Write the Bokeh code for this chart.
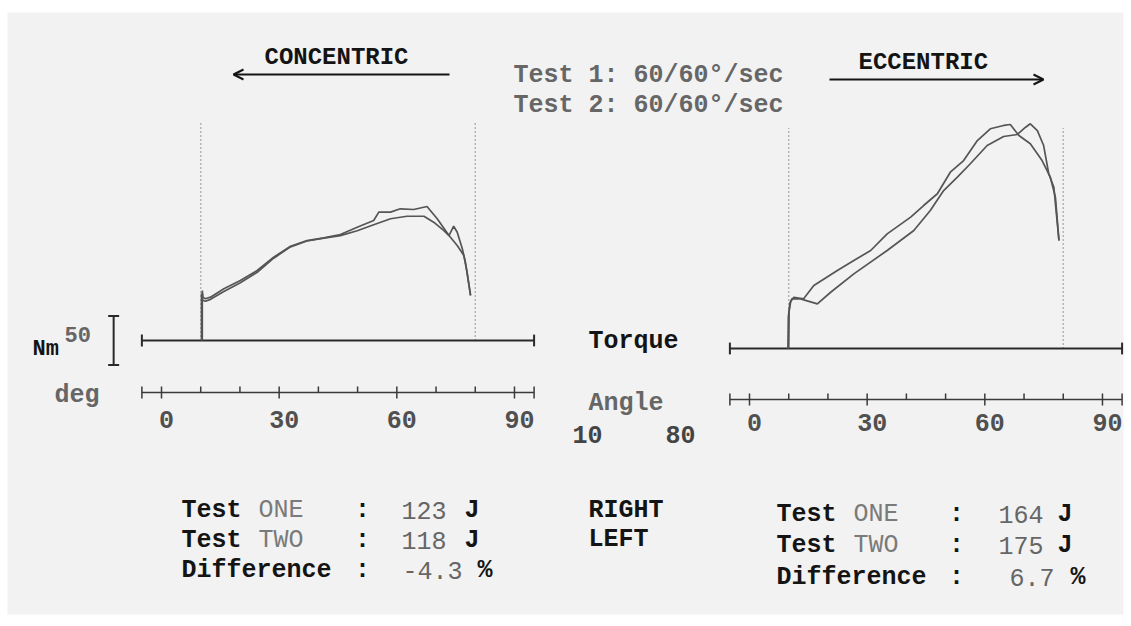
from bokeh.plotting import figure
from bokeh.models import Range1d, Arrow, OpenHead
from bokeh.core.properties import value
from bokeh.embed import file_html
from bokeh.resources import INLINE

# ---------------- data ----------------
# Concentric (left panel): angle (deg) vs torque (Nm)
conc_one_angle = [10.4, 10.4, 10.6, 11.2, 12.5, 15.9, 20.1, 24.4, 28.6, 32.9, 37.1, 41.4, 45.6,
                  49.9, 54.1, 55.4, 58.4, 60.9, 64.3, 67.7, 70.3, 73.3, 75.4, 77.1, 77.9, 78.8]
conc_one_torque = [0, 51, 44, 42.6, 44.2, 52.8, 61.2, 71.4, 85, 96.2, 102, 104.8, 108.2,
                   115.6, 122.4, 131, 131, 134.4, 133.7, 136.7, 124.2, 107.1, 97, 86.7, 69.7, 46]
conc_two_angle = [10.2, 10.2, 10.5, 11.2, 12.5, 15.9, 20.1, 24.4, 28.6, 32.9, 37.1, 41.4, 45.6,
                  49.9, 54.1, 58.4, 62.6, 66.9, 69.4, 72.0, 73.3, 74.5, 75.4, 76.7, 77.5, 78.8]
conc_two_torque = [0, 48, 41, 40, 42, 50, 59, 69.5, 84, 95.5, 101.5, 104.5, 107,
                   112, 118.1, 124.2, 126.8, 126.8, 120.7, 112.2, 107.1, 116.6, 110.5, 93.6, 79.6, 46]

# Eccentric (right panel)
ecc_one_angle = [9.8, 9.9, 10.3, 10.8, 13.0, 17.3, 20.7, 26.6, 35.1, 41.9, 46.1, 49.5, 53.0, 56.3,
                 60.6, 64.8, 68.3, 70.4, 71.6, 73.4, 75.0, 76.3, 77.6, 78.5, 78.9]
ecc_one_torque = [0, 32, 46, 50.7, 50.7, 45.6, 57.4, 76.2, 100, 120.4, 140.8, 161.2, 174.8, 188.5,
                  207.1, 216.3, 218.4, 225.8, 229.3, 222.4, 207.1, 178.3, 164.6, 127.2, 110.2]
ecc_two_angle = [10.0, 10.1, 10.5, 11.3, 13.8, 16.4, 22.4, 26.6, 30.9, 35.1, 41.1, 44.4, 47.9, 51.2,
                 54.6, 58.1, 61.4, 64.8, 66.5, 68.7, 71.6, 74.6, 76.7, 78.0, 78.9]
ecc_two_torque = [0, 38, 48, 52.3, 50.7, 64.3, 79.6, 89.8, 100, 117, 134, 145.9, 157.9, 179.9,
                  191.8, 212.2, 224.2, 227.6, 228.6, 217.3, 208.9, 191.8, 174.8, 154.4, 110.2]

angle_major_ticks = [0, 30, 60, 90]
angle_major_labels = ["0", "30", "60", "90"]
angle_minor_ticks = [10, 20, 40, 50, 70, 80]
angle_axis_limits = [-5, 95]
range_limits = [10, 80]
torque_scale_bar = 50

summary_labels = ["Test", "Test", "Difference"]
summary_names = ["ONE", "TWO"]
conc_values = ["123", "118", "-4.3"]
ecc_values = ["164", "175", "6.7"]
value_units = ["J", "J", "%"]
side_labels = ["RIGHT", "LEFT"]
speed_lines = ["Test 1: 60/60°/sec", "Test 2: 60/60°/sec"]

# ---------------- styles / layout ----------------
FONT = value("Liberation Mono")
BLACK = "#141414"
GRAY = "#666666"
CURVE = "#555555"
FS = "25px"

W, H = 1124, 618
X0, Y0 = 0, 0  # image coordinates of canvas origin

p = figure(width=W, height=H, output_backend="svg", toolbar_location=None,
           x_range=Range1d(X0, X0 + W), y_range=Range1d(Y0 + H, Y0),
           x_axis_type=None, y_axis_type=None, min_border=0,
           background_fill_color="white", border_fill_color="white", outline_line_color=None)
p.grid.visible = False

PX_PER_DEG = 3.922
PX_PER_NM = 0.98


def xr(origin_px):
    return Range1d((X0 - origin_px) / PX_PER_DEG, (X0 + W - origin_px) / PX_PER_DEG)


def yr(origin_px):
    return Range1d((origin_px - (Y0 + H)) / PX_PER_NM, (origin_px - Y0) / PX_PER_NM)


panels = {
    "l": dict(x0=161, base=340, axis_y=392, lab_y=419, dot_top=222),
    "r": dict(x0=749, base=348, axis_y=399, lab_y=422, dot_top=225),
}
p.extra_x_ranges = {k + "x": xr(v["x0"]) for k, v in panels.items()}
p.extra_y_ranges = {k + "y": yr(v["base"]) for k, v in panels.items()}

# grey scanned page area
p.quad(left=7, right=1123, top=12, bottom=614, fill_color="#f2f2f2", line_color=None)

curves = {
    "l": [(conc_one_angle, conc_one_torque), (conc_two_angle, conc_two_torque)],
    "r": [(ecc_one_angle, ecc_one_torque), (ecc_two_angle, ecc_two_torque)],
}

for k, v in panels.items():
    xn, yn = k + "x", k + "y"
    # dotted range limits
    p.segment(x0=range_limits, x1=range_limits, y0=[0, 0], y1=[v["dot_top"]] * 2,
              x_range_name=xn, y_range_name=yn, line_color="#777777", line_width=1.5,
              line_dash="1 3")
    # torque baseline
    p.segment(x0=[angle_axis_limits[0]], x1=[angle_axis_limits[1]], y0=[0], y1=[0],
              x_range_name=xn, y_range_name=yn, line_color="#2a2a2a", line_width=2)
    p.segment(x0=angle_axis_limits, x1=angle_axis_limits, y0=[-6, -6], y1=[6, 6],
              x_range_name=xn, y_range_name=yn, line_color="#2a2a2a", line_width=2)
    # curves
    for a, t in curves[k]:
        p.line(a, t, x_range_name=xn, y_range_name=yn, line_color=CURVE, line_width=1.7)
    # angle axis
    ay = v["axis_y"]
    p.segment(x0=[angle_axis_limits[0]], x1=[angle_axis_limits[1]], y0=[ay], y1=[ay],
              x_range_name=xn, line_color="#3a3a3a", line_width=1.5)
    caps = angle_axis_limits + angle_major_ticks
    p.segment(x0=caps, x1=caps, y0=[ay - 6] * len(caps), y1=[ay + 6] * len(caps),
              x_range_name=xn, line_color="#3a3a3a", line_width=1.5)
    p.segment(x0=angle_minor_ticks, x1=angle_minor_ticks, y0=[ay - 6] * len(angle_minor_ticks),
              y1=[ay] * len(angle_minor_ticks), x_range_name=xn, line_color="#3a3a3a", line_width=1.5)
    p.text(x=angle_major_ticks, y=[v["lab_y"]] * 4, text=angle_major_labels, x_range_name=xn,
           x_offset=5, text_font=FONT, text_font_size=FS, text_font_style="bold",
           text_color="#505050", text_align="center", text_baseline="middle")

# torque scale bar (left panel)
p.segment(x0=[-12.2], x1=[-12.2], y0=[-torque_scale_bar / 2], y1=[torque_scale_bar / 2],
          x_range_name="lx", y_range_name="ly", line_color="#2a2a2a", line_width=2)
p.segment(x0=[-13.6, -13.6], x1=[-10.8, -10.8],
          y0=[-torque_scale_bar / 2, torque_scale_bar / 2], y1=[-torque_scale_bar / 2, torque_scale_bar / 2],
          x_range_name="lx", y_range_name="ly", line_color="#2a2a2a", line_width=2)

# arrows
p.add_layout(Arrow(end=OpenHead(size=10, line_width=2, line_color=BLACK), x_start=449, y_start=74,
                   x_end=233, y_end=74, line_width=2, line_color=BLACK))
p.add_layout(Arrow(end=OpenHead(size=10, line_width=2, line_color=BLACK), x_start=829, y_start=79,
                   x_end=1043, y_end=79, line_width=2, line_color=BLACK))


def txt(xs, ys, texts, color, size=FS, style="bold", align="left"):
    p.text(x=xs, y=ys, text=texts, text_font=FONT, text_font_size=size, text_font_style=style,
           text_color=color, text_align=align, text_baseline="middle")


# titles
txt([264, 858], [57, 62], ["CONCENTRIC", "ECCENTRIC"], BLACK, size="24px")
txt([513, 513], [75, 105], speed_lines, GRAY)

# middle labels
txt([588], [341], ["Torque"], BLACK)
txt([588], [403], ["Angle"], GRAY)
txt([572, 665], [434, 434], ["10", "80"], "#444444")
txt([32], [349], ["Nm"], BLACK, size="22px")
txt([64], [334], ["50"], GRAY, size="22px")
txt([54], [395], ["deg"], GRAY)

# summary blocks
left_y = [510, 540, 570]
right_y = [514, 545, 577]
txt([181] * 3, left_y, summary_labels, BLACK)
txt([776] * 3, right_y, summary_labels, BLACK)
txt([258, 258], left_y[:2], summary_names, "#7a7a7a", style="normal")
txt([853, 853], right_y[:2], summary_names, "#7a7a7a", style="normal")
txt([362] * 3, left_y, [":"] * 3, BLACK, align="center")
txt([956] * 3, right_y, [":"] * 3, BLACK, align="center")
txt([446, 446, 462], left_y, conc_values, GRAY, style="normal", align="right")
txt([1043, 1043, 1054], right_y, ecc_values, GRAY, style="normal", align="right")
txt([464, 464, 477], left_y, value_units, BLACK)
txt([1057, 1057, 1070], right_y, value_units, BLACK)
txt([588, 588], [510, 539], side_labels, BLACK)

open("out.html", "w").write(file_html(p, INLINE))
